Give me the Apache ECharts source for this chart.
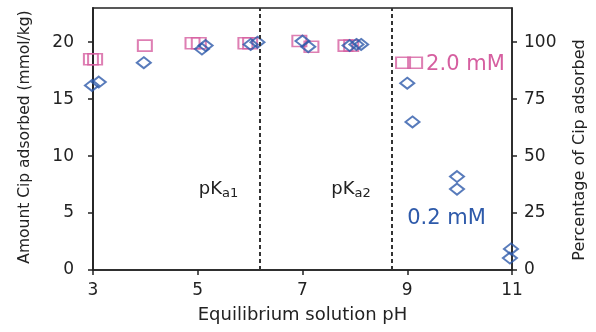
<!DOCTYPE html>
<html><head><meta charset="utf-8">
<script src="https://cdn.jsdelivr.net/npm/echarts@6/dist/echarts.min.js"></script>
<style>html,body{margin:0;padding:0;background:#fff}#c{width:596px;height:332px}</style>
</head><body><div id="c"></div>
<script>
// Ciprofloxacin adsorption vs. equilibrium pH, two initial concentrations
const phLow   = [2.98, 3.11, 3.97, 5.08, 5.15, 6.01, 6.14, 7.0, 7.11, 7.9, 8.03, 8.12, 9.0, 9.1, 9.95, 9.95, 10.98, 10.96];
const adsLow  = [16.2, 16.5, 18.2, 19.4, 19.7, 19.8, 20.0, 20.1, 19.6, 19.7, 19.8, 19.8, 16.4, 13.0, 8.2, 7.1, 1.85, 1.05];
const phHigh  = [2.96, 3.04, 3.99, 4.9, 5.02, 5.91, 6.0, 6.94, 7.17, 7.82, 7.93, 8.92, 9.15];
const adsHigh = [18.5, 18.5, 19.7, 19.9, 19.9, 19.9, 19.9, 20.1, 19.6, 19.7, 19.7, 18.2, 18.2];
const pKa = [6.18, 8.71];
const xTicks = [3, 5, 7, 9, 11];
const amountTicks = [0, 5, 10, 15, 20];
const percentTicks = [0, 25, 50, 75, 100];

const PINK = '#D65FA0';
const BLUE = '#2E5AAA';
const AXIS = '#222';
const FONT = 'DejaVu Sans';

const zip = (xs, ys) => xs.map((x, i) => [x, ys[i]]);

const chart = echarts.init(document.getElementById('c'), null, {renderer: 'canvas'});
chart.setOption({
  animation: false,
  backgroundColor: '#fff',
  textStyle: {fontFamily: FONT, color: AXIS},
  grid: {left: 93, right: 83, top: 8, bottom: 62, show: true, borderColor: AXIS, borderWidth: 1.5, backgroundColor: 'transparent'},
  xAxis: {
    type: 'value', min: 3, max: 11,
    name: 'Equilibrium solution pH', nameLocation: 'middle', nameGap: 36,
    nameTextStyle: {fontSize: 18, color: AXIS, fontFamily: FONT},
    axisLine: {lineStyle: {color: AXIS, width: 1.5}},
    axisTick: {show: true, customValues: xTicks, length: 5, lineStyle: {color: AXIS, width: 1.5}},
    axisLabel: {customValues: xTicks, fontSize: 17, color: AXIS, margin: 12, fontFamily: FONT},
    splitLine: {show: false}
  },
  yAxis: [{
    type: 'value', min: 0, max: 23,
    name: 'Amount Cip adsorbed (mmol/kg)', nameLocation: 'middle', nameGap: 60, nameRotate: 90,
    nameTextStyle: {fontSize: 15.5, color: AXIS, fontFamily: FONT, padding: [0, 0, 0, 4]},
    axisLine: {show: true, lineStyle: {color: AXIS, width: 1.8}},
    axisTick: {show: true, customValues: amountTicks, length: 5, lineStyle: {color: AXIS, width: 1.5}},
    axisLabel: {customValues: amountTicks, fontSize: 17, color: AXIS, margin: 19, fontFamily: FONT},
    splitLine: {show: false}
  }, {
    type: 'value', min: 0, max: 115, position: 'right',
    name: 'Percentage of Cip adsorbed', nameLocation: 'middle', nameGap: 60, nameRotate: 90,
    nameTextStyle: {fontSize: 16, color: AXIS, fontFamily: FONT, padding: [0, 22, 0, 0]},
    axisLine: {show: true, lineStyle: {color: AXIS, width: 1.5}},
    axisTick: {show: true, customValues: percentTicks, length: 5, lineStyle: {color: AXIS, width: 1.5}},
    axisLabel: {customValues: percentTicks, fontSize: 17, color: AXIS, margin: 12, fontFamily: FONT},
    splitLine: {show: false}
  }],
  series: [{
    name: '2.0 mM', type: 'scatter', clip: false,
    symbol: 'rect', symbolSize: [14, 11],
    itemStyle: {color: 'rgba(0,0,0,0)', borderColor: PINK, borderWidth: 1.8},
    data: zip(phHigh, adsHigh),
    markPoint: {
      symbol: 'circle', symbolSize: 0, silent: true,
      label: {show: true, position: 'right', distance: 0, fontFamily: FONT, fontSize: 21, color: PINK, formatter: '2.0 mM'},
      data: [{coord: [9.36, 18.0]}]
    },
    z: 2
  }, {
    name: '0.2 mM', type: 'scatter', clip: false,
    symbol: 'diamond', symbolSize: [14, 11],
    itemStyle: {color: 'rgba(0,0,0,0)', borderColor: BLUE, borderWidth: 2},
    data: zip(phLow, adsLow),
    markLine: {
      silent: true, symbol: 'none',
      lineStyle: {color: '#333', type: [4, 3], width: 2},
      label: {show: false},
      data: pKa.map(v => ({xAxis: v}))
    },
    markPoint: {
      symbol: 'circle', symbolSize: 0, silent: true,
      label: {show: true, position: 'right', distance: 0, fontFamily: FONT},
      data: [
        {coord: [9.0, 4.5], label: {fontSize: 21, color: BLUE, formatter: '0.2 mM'}},
        {coord: [5.02, 7.1], label: {formatter: '{b|pK}{s|a1}', rich: {b: {fontSize: 18, color: AXIS, fontFamily: FONT}, s: {fontSize: 13, color: AXIS, fontFamily: FONT, padding: [9, 0, 0, 0]}}}},
        {coord: [7.55, 7.1], label: {formatter: '{b|pK}{s|a2}', rich: {b: {fontSize: 18, color: AXIS, fontFamily: FONT}, s: {fontSize: 13, color: AXIS, fontFamily: FONT, padding: [9, 0, 0, 0]}}}}
      ]
    },
    z: 3
  }]
});
</script>
</body></html>
